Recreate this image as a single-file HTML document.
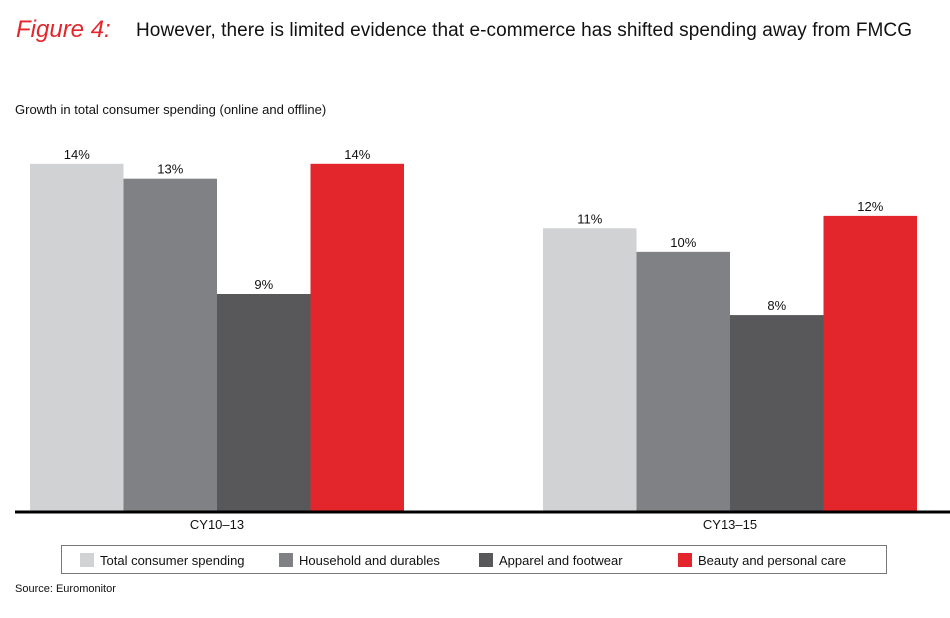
<!DOCTYPE html>
<html><head><meta charset="utf-8"><style>
body{margin:0;background:#fff;width:950px;height:613px;overflow:hidden;font-family:"Liberation Sans",sans-serif}
svg text{font-family:"Liberation Sans",sans-serif}
</style></head><body>
<svg id="chart" width="950" height="613" xmlns="http://www.w3.org/2000/svg">
<text x="16" y="37" font-family="Liberation Serif,serif" font-style="italic" font-size="24" fill="#e3262b">Figure 4:</text>
<text x="136" y="36" font-size="19" fill="#111" textLength="776">However, there is limited evidence that e-commerce has shifted spending away from FMCG</text>
<text x="15" y="114" font-size="13" fill="#111">Growth in total consumer spending (online and offline)</text>
<g id="bars"></g>
<line x1="15" y1="512" x2="950" y2="512" stroke="#000" stroke-width="3"/>
<rect x="61.5" y="545.5" width="825" height="28" fill="none" stroke="#777" stroke-width="1"/>
<g id="legend"></g>
<text x="15" y="592" font-size="11" fill="#111">Source: Euromonitor</text>
</svg>
<script>
const categories=["CY10–13","CY13–15"];
const seriesNames=["Total consumer spending","Household and durables","Apparel and footwear","Beauty and personal care"];
const totalSpending=[14.0,11.4];
const household=[13.4,10.45];
const apparel=[8.75,7.9];
const beauty=[14.0,11.9];
const valueLabels=[["14%","11%"],["13%","10%"],["9%","8%"],["14%","12%"]];
const colors=["#d1d2d4","#808184","#58585a","#e3262b"];
const series=[totalSpending,household,apparel,beauty];
const base=511, pxPer=24.8;
const y=v=>base-v*pxPer;
const groupX=[30,543], barW=93.5;
const ns="http://www.w3.org/2000/svg";
const g=document.getElementById('bars');
categories.forEach((c,ci)=>{
  series.forEach((s,si)=>{
    const x=groupX[ci]+si*barW;
    const r=document.createElementNS(ns,'rect');
    r.setAttribute('x',x);r.setAttribute('y',y(s[ci]));
    r.setAttribute('width',barW);r.setAttribute('height',base-y(s[ci]));
    r.setAttribute('fill',colors[si]);
    
    
    g.appendChild(r);
    const t=document.createElementNS(ns,'text');
    t.setAttribute('x',x+barW/2);t.setAttribute('y',y(s[ci])-5);
    t.setAttribute('text-anchor','middle');t.setAttribute('font-size','13');t.setAttribute('fill','#111');
    t.textContent=valueLabels[si][ci];
    
    
    g.appendChild(t);
  });
  const l=document.createElementNS(ns,'text');
  l.setAttribute('x',groupX[ci]+barW*2);l.setAttribute('y',529);
  l.setAttribute('text-anchor','middle');l.setAttribute('font-size','13');l.setAttribute('fill','#111');
  l.textContent=c;
  
  
  g.appendChild(l);
});
const lg=document.getElementById('legend');
const legX=[80,279,479,678];
seriesNames.forEach((n,i)=>{
  const r=document.createElementNS(ns,'rect');
  r.setAttribute('x',legX[i]);r.setAttribute('y',553);r.setAttribute('width',14);r.setAttribute('height',14);r.setAttribute('fill',colors[i]);
  
  
  lg.appendChild(r);
  const t=document.createElementNS(ns,'text');
  t.setAttribute('x',legX[i]+20);t.setAttribute('y',565);t.setAttribute('font-size','13');t.setAttribute('fill','#111');
  t.textContent=n;
  
  
  lg.appendChild(t);
});
</script>
</body></html>
